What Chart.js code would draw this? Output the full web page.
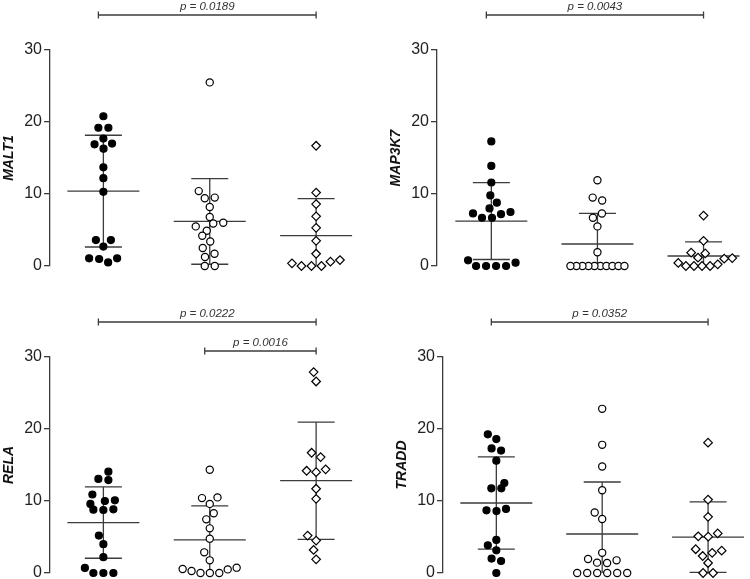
<!DOCTYPE html>
<html>
<head>
<meta charset="utf-8">
<script src="https://cdn.jsdelivr.net/npm/chart.js@4.4.1/dist/chart.umd.min.js"></script>
<style>
  html, body { margin: 0; padding: 0; background: #fff; overflow: hidden; }
  body { width: 750px; height: 579px; position: relative; }
  canvas { position: absolute; }
</style>
</head>
<body>
<canvas id="malt1" width="375" height="300" style="left:0;top:0"></canvas>
<canvas id="map3k7" width="375" height="300" style="left:375px;top:0"></canvas>
<canvas id="rela" width="375" height="300" style="left:0;top:290px"></canvas>
<canvas id="tradd" width="375" height="300" style="left:375px;top:290px"></canvas>
<script>
// groups are not labelled in the figure, so these names are never drawn
const groups = ['Group 1', 'Group 2', 'Group 3'];
const yTicks = [0, 10, 20, 30];

// MALT1
const malt1G1 = [20.8, 19.2, 19.2, 17.7, 16.9, 16.3, 17.0, 13.7, 12.2, 10.3, 3.6, 3.6, 2.7, 1.06, 0.5, 0.97, 1.06];
const malt1G2 = [25.5, 10.4, 9.4, 9.5, 8.2, 6.8, 6.0, 5.9, 5.5, 4.9, 4.2, 3.4, 2.5, 1.7, 1.25, 0, 0];
const malt1G3 = [16.7, 10.2, 8.6, 6.9, 5.3, 3.5, 1.7, 0.6, 0, 0, 0, 0.37, 0.83];
const malt1Tests = [{ from: 0, to: 2, p: '0.0189' }];

// MAP3K7
const map3k7G1 = [17.3, 13.9, 11.6, 9.8, 8.8, 8.0, 7.3, 7.2, 6.7, 6.7, 7.5, 0.46, 0, 0, 0, 0, 0.79];
const map3k7G2 = [11.9, 9.1, 9.5, 7.3, 6.7, 5.5, 1.9, 0, 0, 0, 0, 0, 0, 0, 0, 0, 0];
const map3k7G3 = [7.0, 3.5, 1.85, 1.75, 1.15, 1.1, 1.02, 0.23, 0, 0, 0, 0, 0.42];
const map3k7Tests = [{ from: 0, to: 2, p: '0.0043' }];

// RELA
const relaG1 = [14.07, 13.06, 12.9, 10.9, 9.6, 10.1, 10.0, 8.8, 8.75, 8.84, 5.2, 4.0, 2.2, 0, 0, 0, 0.7];
const relaG2 = [14.35, 10.5, 10.4, 9.6, 8.3, 7.45, 6.2, 4.77, 2.87, 1.76, 0.74, 0.5, 0, 0, 0, 0.28, 0.55];
const relaG3 = [27.9, 26.6, 16.7, 16.1, 14.4, 14.0, 14.2, 11.7, 10.3, 5.2, 4.5, 3.2, 1.9];
const relaTests = [{ from: 0, to: 2, p: '0.0222' }, { from: 1, to: 2, p: '0.0016' }];

// TRADD
const traddG1 = [19.26, 18.6, 17.3, 17.0, 15.6, 11.76, 11.76, 12.5, 8.9, 8.6, 8.7, 4.6, 3.84, 3.15, 2.0, 1.67, 0];
const traddG2 = [22.8, 17.8, 14.8, 11.5, 8.4, 7.5, 2.8, 1.94, 1.44, 1.39, 1.76, 0, 0, 0, 0, 0, 0];
const traddG3 = [18.1, 10.2, 7.8, 5.1, 5.05, 5.5, 3.3, 2.8, 3.1, 2.36, 1.39, 0, 0];
const traddTests = [{ from: 0, to: 2, p: '0.0352' }];

// layout of each panel, in canvas pixels
const panels = [
  { id: 'malt1', gene: 'MALT1', series: [malt1G1, malt1G2, malt1G3], tests: malt1Tests,
    axisX: 50, firstX: 104.3, step: 108.2, top: 50, bottom: 266, levels: [15] },
  { id: 'map3k7', gene: 'MAP3K7', series: [map3k7G1, map3k7G2, map3k7G3], tests: map3k7Tests,
    axisX: 62, firstX: 117.3, step: 108, top: 50, bottom: 266, levels: [15] },
  { id: 'rela', gene: 'RELA', series: [relaG1, relaG2, relaG3], tests: relaTests,
    axisX: 50, firstX: 104.3, step: 108.2, top: 67, bottom: 283, levels: [32, 61] },
  { id: 'tradd', gene: 'TRADD', series: [traddG1, traddG2, traddG3], tests: traddTests,
    axisX: 68, firstX: 122.3, step: 107.8, top: 67, bottom: 283, levels: [32] },
];

const markers = [
  { pointStyle: 'circle', radius: 3.5, backgroundColor: '#000', borderColor: '#000' },
  { pointStyle: 'circle', radius: 3.6, backgroundColor: '#fff', borderColor: '#000' },
  { pointStyle: 'rectRot', radius: 4.3, backgroundColor: '#fff', borderColor: '#000' },
];

const LINE = '#3c3c3c';
const GAP = 9.6;       // min distance between point centres
const MAX_ROW = 54;    // widest a row of equal values may get
const MEAN_HALF = 36;
const CAP_HALF = 18.5;

Chart.defaults.font.family = 'Arial, "Liberation Sans", sans-serif';

function mean(a) { return a.reduce((s, v) => s + v, 0) / a.length; }
function sd(a) {
  const m = mean(a);
  return Math.sqrt(a.reduce((s, v) => s + (v - m) * (v - m), 0) / (a.length - 1));
}

const errorBars = {
  id: 'errorBars',
  beforeDatasetsDraw(chart) {
    const { ctx, scales: { x, y } } = chart;
    ctx.save();
    ctx.strokeStyle = LINE;
    ctx.lineWidth = 1.3;
    chart.data.datasets.forEach((ds, i) => {
      const vals = ds.data.map(p => p.y);
      const m = mean(vals), s = sd(vals);
      const cx = x.getPixelForValue(i);
      const yM = y.getPixelForValue(m);
      const yHi = y.getPixelForValue(m + s);
      const yLo = y.getPixelForValue(Math.max(m - s, 0));
      ctx.beginPath();
      ctx.moveTo(cx - MEAN_HALF, yM); ctx.lineTo(cx + MEAN_HALF, yM);
      ctx.moveTo(cx, yHi); ctx.lineTo(cx, yLo);
      ctx.moveTo(cx - CAP_HALF, yHi); ctx.lineTo(cx + CAP_HALF, yHi);
      if (m - s >= 0) { ctx.moveTo(cx - CAP_HALF, yLo); ctx.lineTo(cx + CAP_HALF, yLo); }
      ctx.stroke();
    });
    ctx.restore();
  }
};

const brackets = {
  id: 'brackets',
  afterDraw(chart, args, opts) {
    const { ctx, scales: { x } } = chart;
    ctx.save();
    ctx.strokeStyle = LINE;
    ctx.fillStyle = '#333';
    ctx.lineWidth = 1.3;
    ctx.font = 'italic 11.5px Arial, "Liberation Sans", sans-serif';
    ctx.textAlign = 'center';
    ctx.textBaseline = 'middle';
    opts.tests.forEach((t, k) => {
      const yL = opts.levels[k];
      const x1 = x.getPixelForValue(t.from) - 5;
      const x2 = x.getPixelForValue(t.to);
      ctx.beginPath();
      ctx.moveTo(x1, yL); ctx.lineTo(x2, yL);
      ctx.moveTo(x1, yL - 3.5); ctx.lineTo(x1, yL + 3.5);
      ctx.moveTo(x2, yL - 3.5); ctx.lineTo(x2, yL + 3.5);
      ctx.stroke();
      ctx.fillText('p = ' + t.p, (x1 + x2) / 2, yL - 8.5);
    });
    ctx.restore();
  }
};

// spread points of a group sideways so they do not overlap (beeswarm)
function swarm(chart) {
  const xs = chart.scales.x, ys = chart.scales.y;
  const unit = xs.getPixelForValue(1) - xs.getPixelForValue(0);
  chart.data.datasets.forEach((ds, i) => {
    const pts = ds.data.map((p, k) => ({ k, py: ys.getPixelForValue(p.y), dx: 0 }));
    pts.sort((a, b) => b.py - a.py);
    const placed = [];
    pts.forEach(p => {
      for (let s = 0; s < 400; s++) {
        const off = s === 0 ? 0 : (s % 2 ? -1 : 1) * Math.ceil(s / 2) * 0.5;
        const free = placed.every(q => (q.dx - off) ** 2 + (q.py - p.py) ** 2 >= GAP * GAP);
        if (free) { p.dx = off; break; }
      }
      placed.push(p);
    });
    // centre rows of nearly equal values and squeeze very long rows
    let row = [];
    const flush = () => {
      if (row.length > 1) {
        const m = mean(row.map(q => q.dx));
        row.forEach(q => { q.dx -= m; });
        const span = Math.max(...row.map(q => q.dx)) - Math.min(...row.map(q => q.dx));
        if (span > MAX_ROW) row.forEach(q => { q.dx *= MAX_ROW / span; });
      }
      row = [];
    };
    pts.forEach(p => {
      if (row.length && row[row.length - 1].py - p.py > 4.5) flush();
      row.push(p);
    });
    flush();
    pts.forEach(p => { ds.data[p.k].x = i + p.dx / unit; });
  });
  chart.update('none');
}

panels.forEach(panel => {
  const canvas = document.getElementById(panel.id);
  const xMin = -(panel.firstX - panel.axisX) / panel.step;
  const xMax = (canvas.width - panel.firstX) / panel.step;

  const datasets = panel.series.map((values, i) => ({
    label: groups[i],
    data: values.map(v => ({ x: i, y: v })),
    pointStyle: markers[i].pointStyle,
    pointRadius: markers[i].radius,
    pointBackgroundColor: markers[i].backgroundColor,
    pointBorderColor: markers[i].borderColor,
    pointBorderWidth: 1.2,
    showLine: false,
    clip: false,
  }));

  const chart = new Chart(canvas, {
    type: 'scatter',
    data: { datasets: datasets },
    options: {
      responsive: false,
      animation: false,
      events: [],
      layout: {
        padding: { left: panel.axisX - 50, right: 0, top: panel.top, bottom: canvas.height - panel.bottom }
      },
      scales: {
        x: { type: 'linear', min: xMin, max: xMax, display: false },
        y: {
          min: 0,
          max: 30,
          afterFit(scale) { scale.width = 50; },
          afterBuildTicks(scale) { scale.ticks = yTicks.map(v => ({ value: v })); },
          ticks: { font: { size: 16 }, color: '#222', padding: 2 },
          grid: { drawOnChartArea: false, drawTicks: true, tickLength: 6, color: LINE, lineWidth: 1.3 },
          border: { display: true, color: LINE, width: 1.3 },
          title: {
            display: true,
            text: panel.gene,
            color: '#111',
            font: { size: 14, weight: 'bold', style: 'italic' },
            padding: { top: 1, bottom: 0 }
          }
        }
      },
      plugins: {
        legend: { display: false },
        tooltip: { enabled: false },
        brackets: { tests: panel.tests, levels: panel.levels }
      }
    },
    plugins: [errorBars, brackets]
  });
  swarm(chart);
});
</script>
</body>
</html>
